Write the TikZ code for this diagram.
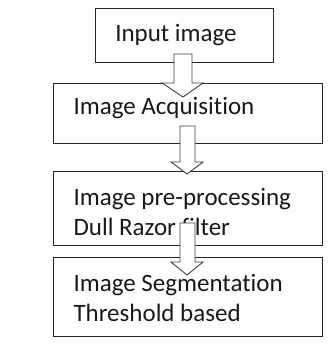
\documentclass[tikz,border=0pt]{standalone}
\usepackage{fontspec}
\setmainfont[Ligatures=NoCommon]{Carlito}
\begin{document}
\begin{tikzpicture}[x=1pt,y=-1pt,
  stage/.style={draw=black!85, line width=0.9pt, fill=white, inner sep=0pt},
  label/.style={font=\fontsize{25}{30.5}\selectfont, text=black!90, align=left, anchor=west},
  blockarrow/.style={draw=black!75, line width=0.9pt, fill=white, line join=miter}]
\useasboundingbox (0,0) rectangle (333,350);

% processing stages
\node[stage, minimum width=178pt, minimum height=54pt, anchor=north west] (b1) at (95,8) {};
\node[stage, minimum width=269pt, minimum height=60pt, anchor=north west] (b2) at (53,83) {};
\node[stage, minimum width=269pt, minimum height=74pt, anchor=north west] (b3) at (53,171) {};
\node[stage, minimum width=269pt, minimum height=79pt, anchor=north west] (b4) at (53,257) {};

% stage texts
\node[font=\fontsize{25}{30.5}\selectfont, text=black!90] (t1) at (176,35) {Input image};
\node[label] (t2) at (70,108) {Image Acquisition};
\node[label] (t3) at (70,212) {Image pre-processing\\Dull Razor filter};
\node[label] (t4) at (70,298) {Image Segmentation\\Threshold based};

% hollow block arrows between stages
\draw[blockarrow] (174,54) -- (192,54) -- (192,83) -- (203,83) -- (183,97)
  -- (162,83) -- (174,83) -- cycle;
\draw[blockarrow] (180,126) -- (195,126) -- (195,162) -- (203,162) -- (187,174)
  -- (171,162) -- (180,162) -- cycle;
\draw[blockarrow] (180,223) -- (195,223) -- (195,262) -- (203,262) -- (187,275)
  -- (171,262) -- (180,262) -- cycle;
\end{tikzpicture}
\end{document}
